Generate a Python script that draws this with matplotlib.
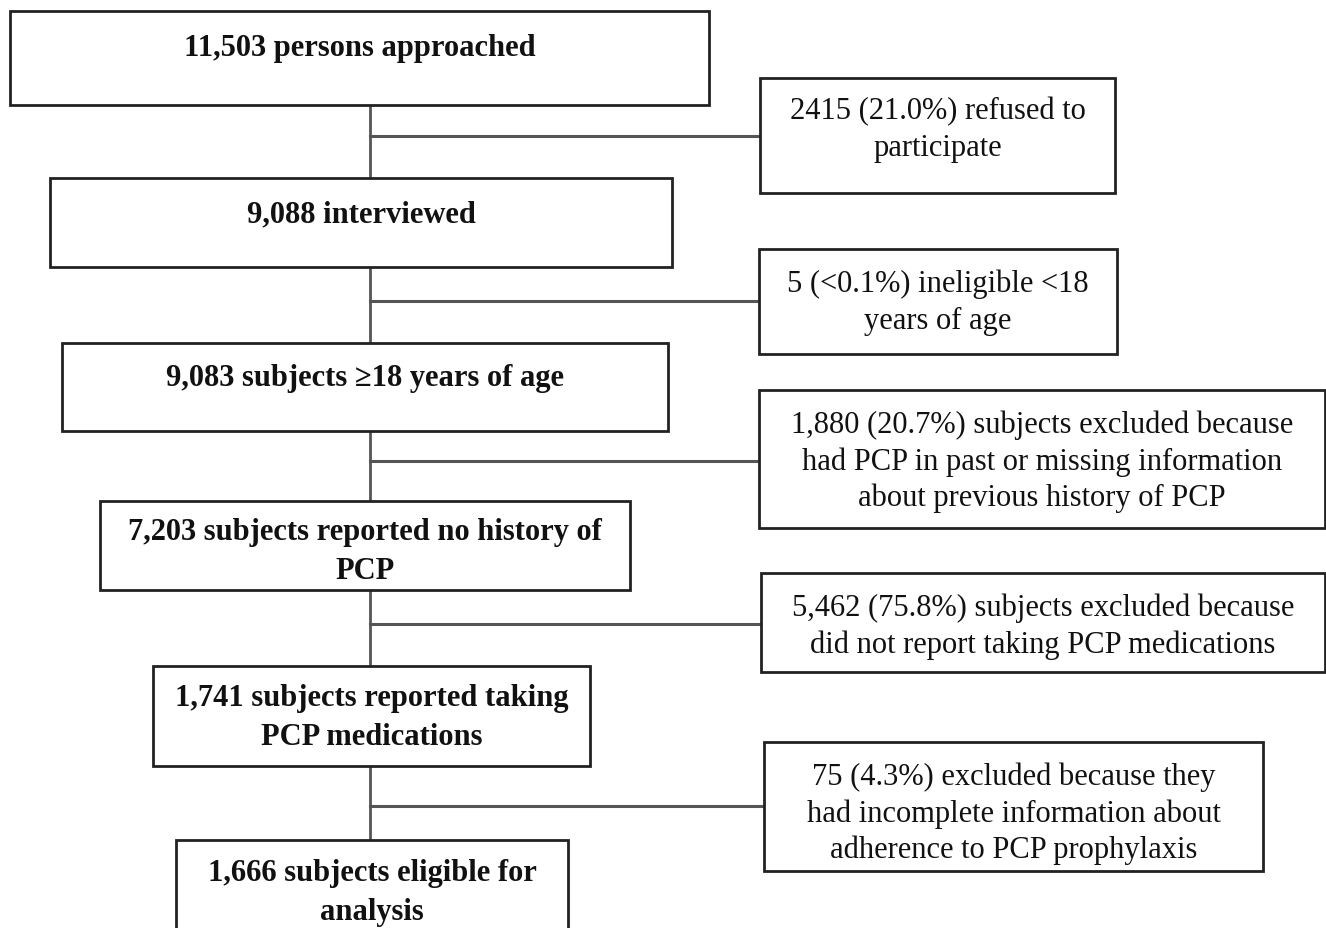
import matplotlib.pyplot as plt
from matplotlib.patches import Rectangle

# Flow of participants (main column) and exclusions (side boxes)
main_labels = [
    "11,503 persons approached",
    "9,088 interviewed",
    "9,083 subjects \u226518 years of age",
    "7,203 subjects reported no history of\nPCP",
    "1,741 subjects reported taking\nPCP medications",
    "1,666 subjects eligible for\nanalysis",
]
excluded_labels = [
    "2415 (21.0%) refused to\nparticipate",
    "5 (<0.1%) ineligible <18\nyears of age",
    "1,880 (20.7%) subjects excluded because\nhad PCP in past or missing information\nabout previous history of PCP",
    "5,462 (75.8%) subjects excluded because\ndid not report taking PCP medications",
    "75 (4.3%) excluded because they\nhad incomplete information about\nadherence to PCP prophylaxis",
]

# Layout in pixel units: (left, top, right, bottom), y of first text line
main_boxes = [(10, 12, 709, 106), (50, 179, 672, 268), (62, 344, 668, 432),
              (100, 502, 630, 591), (153, 667, 590, 767), (176, 841, 568, 960)]
main_text_y = [43, 209, 373, 527, 693, 868]
side_boxes = [(760, 79, 1115, 194), (759, 250, 1117, 355), (759, 391, 1325, 529),
              (761, 574, 1325, 673), (764, 743, 1263, 872)]
side_text_y = [106, 279, 420, 603, 772]
branch_y = [137, 302, 462, 625, 807]
spine_x = 370

W, H = 1326, 929
fig = plt.figure(figsize=(W / 100, H / 100), dpi=100)
ax = fig.add_axes([0, 0, 1, 1])
ax.set_xlim(0, W)
ax.set_ylim(H, 0)
ax.axis("off")

line_col = "#555555"
box_col = "#222222"


def draw_box(box, label, first_y, step, bold):
    l, t, r, b = box
    ax.add_patch(Rectangle((l, t), r - l, b - t, facecolor="white",
                           edgecolor=box_col, lw=2, zorder=2))
    # one text per line so line positions follow the reference
    for i, line in enumerate(label.split("\n")):
        ax.text((l + r) / 2, first_y + i * step + 2, line, ha="center", va="center_baseline",
                fontsize=22, fontweight="bold" if bold else "normal",
                family="Liberation Serif", color="#111111", zorder=3)


# vertical spine and branches
ax.plot([spine_x, spine_x], [main_boxes[0][3], main_boxes[-1][1]], color=line_col, lw=2, zorder=1)
for y, box in zip(branch_y, side_boxes):
    ax.plot([spine_x, box[0]], [y, y], color=line_col, lw=2.2, zorder=1)

for box, label, ty in zip(main_boxes, main_labels, main_text_y):
    draw_box(box, label, ty, 39, True)

for box, label, ty in zip(side_boxes, excluded_labels, side_text_y):
    draw_box(box, label, ty, 36.5, False)

fig.savefig("out.png", dpi=100)
